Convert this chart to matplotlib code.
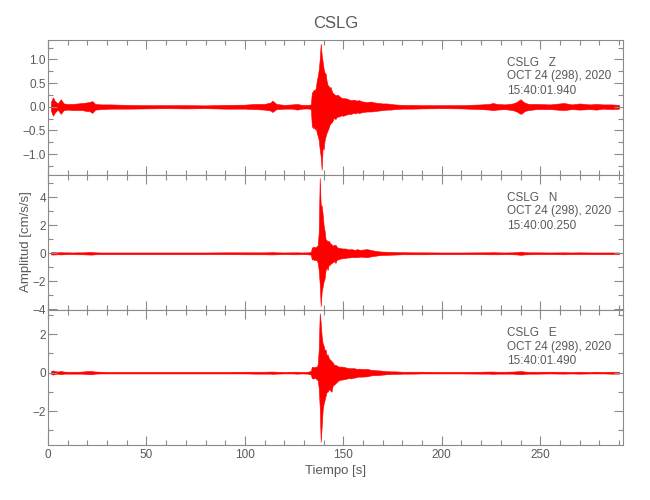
import matplotlib
matplotlib.use("Agg")
import matplotlib.pyplot as plt
from matplotlib.ticker import MultipleLocator

plt.rcParams['font.family'] = ['Liberation Sans', 'DejaVu Sans']

# Station / component labels
estacion = "CSLG"
componentes = ["Z", "N", "E"]
fecha = "OCT 24 (298), 2020"
horas = ["15:40:01.940", "15:40:00.250", "15:40:01.490"]

tiempo = [1.5, 2.5, 3.5, 5, 6.5, 8, 10, 12.5, 15, 17.5, 19.5, 21, 22.5, 24, 27, 32,
          40, 50, 60, 70, 80, 90, 100, 105, 110, 113, 114, 116, 120, 124, 126.5, 129,
          132, 133.5,
          134, 134.5, 135, 135.5, 136, 136.5, 137, 137.5, 138, 138.5, 139, 139.5,
          140, 140.5, 141, 141.5, 142, 142.5, 143, 143.5, 144, 144.5, 145, 145.5,
          146, 146.5, 147, 148, 149, 150, 151, 152, 153, 154, 155, 156, 157, 158,
          159, 160, 162, 164, 166, 168, 170, 172, 174, 176, 178, 180,
          185, 190, 200, 210, 220, 224, 226, 228, 232, 236, 238, 240, 241, 242,
          244, 248, 255, 262, 266, 270, 275, 278.5, 282, 286, 290]

# Z component: upper / lower envelope (cm/s/s)
z_sup = [0.10, 0.20, 0.12, 0.07, 0.16, 0.07, 0.06, 0.06, 0.07, 0.08, 0.09, 0.10, 0.12, 0.06, 0.05, 0.05,
         0.04, 0.035, 0.035, 0.035, 0.03, 0.04, 0.045, 0.06, 0.06, 0.09, 0.13, 0.06, 0.04, 0.05, 0.06, 0.04,
         0.04, 0.05,
         0.30, 0.32, 0.36, 0.34, 0.40, 0.55, 0.65, 0.78, 1.00, 1.33, 1.10, 0.95,
         0.80, 0.72, 0.70, 0.55, 0.46, 0.44, 0.40, 0.42, 0.35, 0.30, 0.28, 0.26,
         0.25, 0.24, 0.26, 0.22, 0.19, 0.18, 0.18, 0.17, 0.15, 0.14, 0.15, 0.14, 0.13, 0.14,
         0.12, 0.11, 0.10, 0.11, 0.09, 0.08, 0.07, 0.07, 0.06, 0.05, 0.045, 0.04,
         0.04, 0.035, 0.035, 0.035, 0.05, 0.06, 0.08, 0.06, 0.05, 0.07, 0.10, 0.16, 0.12, 0.09,
         0.06, 0.06, 0.05, 0.08, 0.05, 0.07, 0.05, 0.06, 0.05, 0.05, 0.04]
z_inf = [-0.08, -0.19, -0.12, -0.06, -0.15, -0.07, -0.06, -0.07, -0.07, -0.07, -0.09, -0.09, -0.13, -0.06, -0.05, -0.04,
         -0.04, -0.035, -0.03, -0.035, -0.03, -0.04, -0.04, -0.05, -0.06, -0.08, -0.11, -0.05, -0.04, -0.04, -0.06, -0.04,
         -0.035, -0.05,
         -0.40, -0.45, -0.42, -0.48, -0.44, -0.55, -0.62, -0.70, -0.90, -1.05, -1.33, -0.85,
         -0.90, -0.70, -0.62, -0.55, -0.50, -0.45, -0.38, -0.35, -0.33, -0.30, -0.25, -0.24,
         -0.26, -0.22, -0.21, -0.20, -0.18, -0.19, -0.17, -0.16, -0.15, -0.15, -0.13, -0.14, -0.12, -0.13,
         -0.12, -0.11, -0.10, -0.10, -0.09, -0.08, -0.07, -0.06, -0.06, -0.05, -0.045, -0.04,
         -0.04, -0.035, -0.03, -0.035, -0.05, -0.06, -0.07, -0.06, -0.05, -0.07, -0.10, -0.15, -0.13, -0.09,
         -0.07, -0.05, -0.05, -0.07, -0.05, -0.06, -0.05, -0.06, -0.04, -0.05, -0.04]

# N component
n_sup = [0.08, 0.10, 0.08, 0.07, 0.08, 0.07, 0.07, 0.06, 0.07, 0.07, 0.08, 0.10, 0.09, 0.07, 0.06, 0.06,
         0.06, 0.06, 0.06, 0.06, 0.06, 0.07, 0.07, 0.07, 0.07, 0.08, 0.09, 0.07, 0.06, 0.07, 0.07, 0.06,
         0.07, 0.10,
         0.40, 0.45, 0.48, 0.42, 0.46, 0.50, 0.60, 1.50, 5.40, 3.50, 3.40, 2.80,
         2.00, 1.60, 1.00, 0.95, 0.85, 0.90, 0.80, 0.70, 0.65, 0.55, 0.58, 0.60,
         0.62, 0.50, 0.42, 0.38, 0.36, 0.34, 0.35, 0.30, 0.28, 0.30, 0.27, 0.25, 0.30, 0.26,
         0.25, 0.27, 0.30, 0.24, 0.18, 0.14, 0.12, 0.11, 0.10, 0.09, 0.08, 0.08,
         0.07, 0.07, 0.06, 0.06, 0.07, 0.07, 0.08, 0.07, 0.06, 0.07, 0.09, 0.12, 0.11, 0.08,
         0.07, 0.07, 0.06, 0.07, 0.06, 0.07, 0.06, 0.06, 0.06, 0.06, 0.06]
n_inf = [-0.08, -0.09, -0.08, -0.07, -0.08, -0.07, -0.06, -0.06, -0.07, -0.07, -0.08, -0.09, -0.09, -0.07, -0.06, -0.06,
         -0.06, -0.06, -0.06, -0.06, -0.06, -0.06, -0.07, -0.07, -0.07, -0.08, -0.08, -0.07, -0.06, -0.07, -0.07, -0.06,
         -0.07, -0.10,
         -0.45, -0.40, -0.48, -0.45, -0.50, -0.48, -0.70, -1.20, -2.20, -3.80, -2.75, -2.40,
         -2.00, -1.80, -1.20, -1.00, -1.20, -0.85, -0.84, -0.75, -0.70, -0.65, -0.62, -0.55,
         -0.70, -0.50, -0.45, -0.40, -0.36, -0.35, -0.33, -0.30, -0.30, -0.28, -0.27, -0.28, -0.27, -0.25,
         -0.24, -0.25, -0.28, -0.22, -0.18, -0.14, -0.12, -0.11, -0.10, -0.09, -0.08, -0.07,
         -0.07, -0.07, -0.06, -0.06, -0.06, -0.07, -0.07, -0.07, -0.06, -0.07, -0.08, -0.11, -0.10, -0.08,
         -0.07, -0.06, -0.06, -0.07, -0.06, -0.06, -0.06, -0.06, -0.06, -0.06, -0.06]

# E component
e_sup = [0.08, 0.12, 0.08, 0.06, 0.09, 0.06, 0.05, 0.05, 0.05, 0.06, 0.08, 0.09, 0.08, 0.06, 0.05, 0.04,
         0.04, 0.04, 0.04, 0.04, 0.04, 0.04, 0.05, 0.05, 0.05, 0.06, 0.06, 0.05, 0.04, 0.05, 0.05, 0.04,
         0.05, 0.10,
         0.30, 0.31, 0.28, 0.30, 0.32, 0.30, 0.45, 1.20, 3.10, 2.60, 1.90, 1.53,
         1.40, 1.18, 1.20, 0.92, 0.95, 0.80, 0.70, 0.66, 0.60, 0.55, 0.45, 0.40,
         0.42, 0.38, 0.35, 0.31, 0.32, 0.30, 0.28, 0.25, 0.24, 0.23, 0.24, 0.22, 0.20, 0.21,
         0.20, 0.19, 0.20, 0.15, 0.13, 0.12, 0.10, 0.08, 0.07, 0.07, 0.06, 0.05,
         0.05, 0.05, 0.04, 0.04, 0.05, 0.06, 0.06, 0.05, 0.05, 0.06, 0.07, 0.09, 0.08, 0.06,
         0.05, 0.05, 0.05, 0.05, 0.04, 0.05, 0.04, 0.05, 0.04, 0.05, 0.05]
e_inf = [-0.06, -0.10, -0.07, -0.05, -0.08, -0.05, -0.05, -0.05, -0.05, -0.05, -0.07, -0.08, -0.08, -0.05, -0.04, -0.04,
         -0.04, -0.04, -0.04, -0.04, -0.04, -0.04, -0.04, -0.05, -0.05, -0.05, -0.06, -0.05, -0.04, -0.04, -0.05, -0.04,
         -0.05, -0.10,
         -0.28, -0.30, -0.30, -0.25, -0.30, -0.35, -0.40, -0.80, -1.80, -3.60, -2.80, -1.94,
         -1.60, -1.42, -1.20, -1.00, -0.99, -0.90, -0.85, -0.95, -0.99, -0.70, -0.64, -0.60,
         -0.55, -0.50, -0.45, -0.38, -0.36, -0.35, -0.32, -0.30, -0.28, -0.30, -0.26, -0.25, -0.22, -0.20,
         -0.21, -0.20, -0.19, -0.14, -0.13, -0.12, -0.10, -0.08, -0.07, -0.06, -0.06, -0.05,
         -0.05, -0.04, -0.04, -0.04, -0.05, -0.05, -0.06, -0.05, -0.05, -0.05, -0.07, -0.08, -0.08, -0.06,
         -0.05, -0.05, -0.04, -0.05, -0.04, -0.05, -0.04, -0.04, -0.04, -0.05, -0.05]

trazas = [(z_sup, z_inf), (n_sup, n_inf), (e_sup, e_inf)]
for sup, inf in trazas:
    assert len(sup) == len(tiempo) and len(inf) == len(tiempo)

# Axis ranges and tick steps per panel
ylims = [(-1.44, 1.42), (-4.06, 5.63), (-3.76, 3.26)]
y_major = [0.5, 2, 2]
y_minor = [0.25, 1, 1]

gris = '#8a8a8a'
texto = '#5a5a5a'

fig = plt.figure(figsize=(6.5, 5), dpi=100)
posiciones = [[0.0738, 0.65, 0.8846, 0.271],
              [0.0738, 0.38, 0.8846, 0.2706],
              [0.0738, 0.11, 0.8846, 0.27]]

for i, (sup, inf) in enumerate(trazas):
    ax = fig.add_axes(posiciones[i])
    ax.fill_between(tiempo, inf, sup, color='red', lw=0.4, edgecolor='red')
    ax.set_xlim(0, 292)
    ax.set_ylim(*ylims[i])
    ax.xaxis.set_major_locator(MultipleLocator(50))
    ax.xaxis.set_minor_locator(MultipleLocator(10))
    ax.yaxis.set_major_locator(MultipleLocator(y_major[i]))
    ax.yaxis.set_minor_locator(MultipleLocator(y_minor[i]))
    ax.tick_params(which='both', direction='in', top=True, right=True,
                   color=gris, labelcolor=texto, labelsize=8.5, width=0.8)
    ax.tick_params(which='major', length=6.5)
    ax.tick_params(which='minor', length=3.6)
    ax.tick_params(axis='y', pad=1.5)
    ax.tick_params(axis='x', pad=3)
    for sp in ax.spines.values():
        sp.set_color(gris)
        sp.set_linewidth(0.8)
    if i < 2:
        ax.tick_params(labelbottom=False)

    ax.text(0.798, 0.804, estacion + "   " + componentes[i], transform=ax.transAxes,
            fontsize=8.5, color=texto, va='baseline')
    ax.text(0.798, 0.706, fecha, transform=ax.transAxes,
            fontsize=8.5, color=texto, va='baseline')
    ax.text(0.798, 0.598, horas[i], transform=ax.transAxes,
            fontsize=8.5, color=texto, va='baseline')

fig.text(0.516, 0.954, estacion, ha='center', va='center', fontsize=12, color=texto)
fig.text(0.516, 0.058, "Tiempo [s]", ha='center', va='center', fontsize=9.5, color=texto)
fig.text(0.04, 0.517, "Amplitud [cm/s/s]", ha='center', va='center', rotation=90,
         fontsize=9.5, color=texto)

fig.savefig("out.png", dpi=100)
